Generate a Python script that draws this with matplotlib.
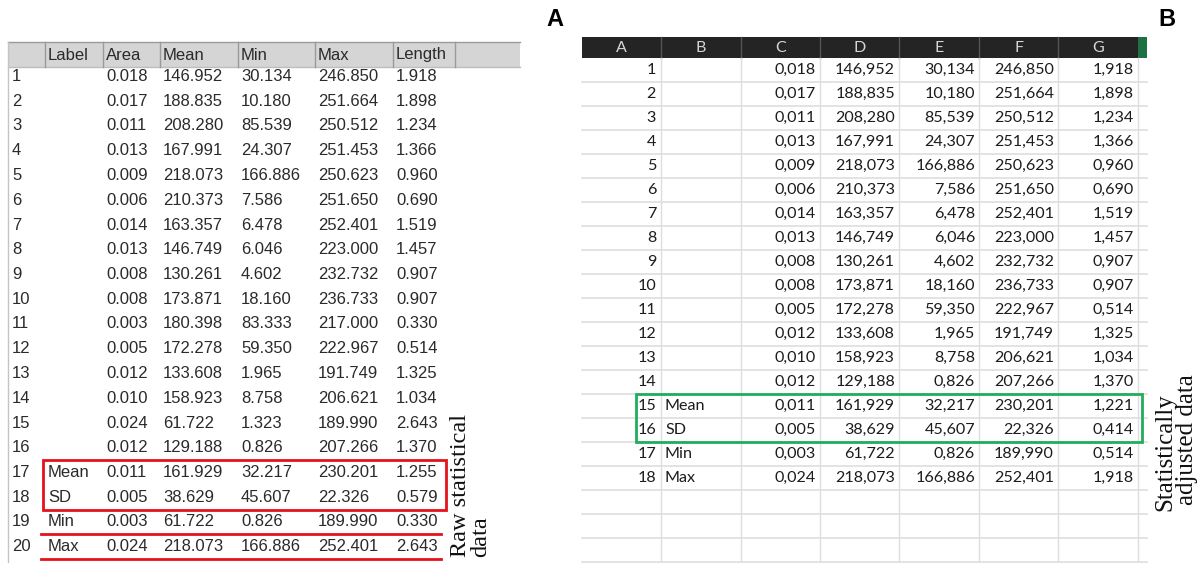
import matplotlib
matplotlib.use("Agg")
import matplotlib.pyplot as plt
from matplotlib.patches import Rectangle

# ---- panel A: raw ImageJ-style results table ----
raw_cols = ["Label", "Area", "Mean", "Min", "Max", "Length"]
raw_labels = [""] * 16 + ["Mean", "SD", "Min", "Max"]
raw_area = [0.018, 0.017, 0.011, 0.013, 0.009, 0.006, 0.014, 0.013, 0.008, 0.008,
            0.003, 0.005, 0.012, 0.010, 0.024, 0.012, 0.011, 0.005, 0.003, 0.024]
raw_mean = [146.952, 188.835, 208.280, 167.991, 218.073, 210.373, 163.357, 146.749,
            130.261, 173.871, 180.398, 172.278, 133.608, 158.923, 61.722, 129.188,
            161.929, 38.629, 61.722, 218.073]
raw_min = [30.134, 10.180, 85.539, 24.307, 166.886, 7.586, 6.478, 6.046, 4.602, 18.160,
           83.333, 59.350, 1.965, 8.758, 1.323, 0.826, 32.217, 45.607, 0.826, 166.886]
raw_max = [246.850, 251.664, 250.512, 251.453, 250.623, 251.650, 252.401, 223.000,
           232.732, 236.733, 217.000, 222.967, 191.749, 206.621, 189.990, 207.266,
           230.201, 22.326, 189.990, 252.401]
raw_length = [1.918, 1.898, 1.234, 1.366, 0.960, 0.690, 1.519, 1.457, 0.907, 0.907,
              0.330, 0.514, 1.325, 1.034, 2.643, 1.370, 1.255, 0.579, 0.330, 2.643]

# ---- panel B: spreadsheet after removing outliers ----
adj_cols = ["A", "B", "C", "D", "E", "F", "G"]
adj_labels = [""] * 14 + ["Mean", "SD", "Min", "Max"]
adj_area = [0.018, 0.017, 0.011, 0.013, 0.009, 0.006, 0.014, 0.013, 0.008, 0.008,
            0.005, 0.012, 0.010, 0.012, 0.011, 0.005, 0.003, 0.024]
adj_mean = [146.952, 188.835, 208.280, 167.991, 218.073, 210.373, 163.357, 146.749,
            130.261, 173.871, 172.278, 133.608, 158.923, 129.188,
            161.929, 38.629, 61.722, 218.073]
adj_min = [30.134, 10.180, 85.539, 24.307, 166.886, 7.586, 6.478, 6.046, 4.602, 18.160,
           59.350, 1.965, 8.758, 0.826, 32.217, 45.607, 0.826, 166.886]
adj_max = [246.850, 251.664, 250.512, 251.453, 250.623, 251.650, 252.401, 223.000,
           232.732, 236.733, 222.967, 191.749, 206.621, 207.266,
           230.201, 22.326, 189.990, 252.401]
adj_length = [1.918, 1.898, 1.234, 1.366, 0.960, 0.690, 1.519, 1.457, 0.907, 0.907,
              0.514, 1.325, 1.034, 1.370, 1.221, 0.414, 0.514, 1.918]

fig = plt.figure(figsize=(11.97, 5.63), dpi=100)
ax = fig.add_axes([0, 0, 1, 1])
ax.set_xlim(0, 1197)
ax.set_ylim(563, 0)
ax.axis("off")

# ---------------- panel A ----------------
sans = "Liberation Sans"
txt_a = "#2a2a2a"
seps_a = [45, 103, 160, 238, 315, 393, 455]
ax.add_patch(Rectangle((8, 42), 512, 25, facecolor="#d5d5d5", edgecolor="none"))
ax.plot([8, 520], [42, 42], color="#9a9a9a", lw=1)
ax.plot([8, 520], [67, 67], color="#bdbdbd", lw=1)
for x in seps_a:
    ax.plot([x, x], [42, 67], color="#9a9a9a", lw=1)
ax.plot([8, 8], [42, 563], color="#c4c4c4", lw=1)
for x, name in zip(seps_a[:-1], raw_cols):
    ax.text(x + 3, 55, name, fontsize=12, family=sans, color=txt_a, va="center")

def fmt_a(v):
    return f"{v:.3f}"

y0, dy = 76.5, 24.75
for i in range(len(raw_area)):
    y = y0 + i * dy
    ax.text(12, y, str(i + 1), fontsize=12, family=sans, color=txt_a, va="center")
    vals = [raw_labels[i], fmt_a(raw_area[i]), fmt_a(raw_mean[i]), fmt_a(raw_min[i]),
            fmt_a(raw_max[i]), fmt_a(raw_length[i])]
    for x, s in zip(seps_a[:-1], vals):
        ax.text(x + 3, y, s, fontsize=12, family=sans, color=txt_a, va="center")

red = "#e5121b"
ax.add_patch(Rectangle((43, y0 + 16 * dy - 12.5), 403, 2 * dy,
                       facecolor="none", edgecolor=red, lw=2, zorder=5))
for r in (18, 19):
    yl = y0 + r * dy + 12
    ax.plot([41, 441], [yl, yl], color=red, lw=2, zorder=5)

ax.text(460, 557, "Raw statistical", rotation=90, fontsize=17.5,
        family="Liberation Serif", color="#111111", ha="center", va="bottom")
ax.text(481, 557, "data", rotation=90, fontsize=17.5,
        family="Liberation Serif", color="#111111", ha="center", va="bottom")

# ---------------- panel B ----------------
calib = "Lato"
txt_b = "#1c1c1c"
seps_b = [582, 661, 741, 820, 899, 979, 1058, 1138]
ax.add_patch(Rectangle((582, 37), 556, 21, facecolor="#242424", edgecolor="none"))
ax.add_patch(Rectangle((1138, 37), 9, 21, facecolor="#1e7145", edgecolor="none"))
for x in seps_b[1:-1]:
    ax.plot([x, x], [37, 58], color="#555555", lw=1)
for j, name in enumerate(adj_cols):
    ax.text((seps_b[j] + seps_b[j + 1]) / 2, 48, name, fontsize=11.5, family=calib,
            color="#d6d6d6", ha="center", va="center")

grid = "#dedede"
yb0, dyb = 70, 24
for x in seps_b[1:]:
    ax.plot([x, x], [58, 563], color=grid, lw=1)
yl = 58 + dyb
while yl < 563:
    ax.plot([582, 1147], [yl, yl], color=grid, lw=1.2)
    yl += dyb

def fmt_b(v):
    return f"{v:.3f}".replace(".", ",")

for i in range(len(adj_area)):
    y = yb0 + i * dyb
    ax.text(656, y, str(i + 1), fontsize=11.6, family=calib, color=txt_b,
            ha="right", va="center")
    ax.text(665, y, adj_labels[i], fontsize=11.6, family=calib, color=txt_b,
            ha="left", va="center")
    vals = [adj_area[i], adj_mean[i], adj_min[i], adj_max[i], adj_length[i]]
    for x, v in zip(seps_b[3:], vals):
        ax.text(x - 4, y, fmt_b(v), fontsize=11.6, family=calib, color=txt_b,
                ha="right", va="center")

ax.add_patch(Rectangle((636, yb0 + 14 * dyb - 12), 506, 2 * dyb,
                       facecolor="none", edgecolor="#22ad5c", lw=2, zorder=5))

ax.text(1165, 452, "Statistically", rotation=90, fontsize=18,
        family="Liberation Serif", color="#111111", ha="center", va="center")
ax.text(1187, 440, "adjusted data", rotation=90, fontsize=18,
        family="Liberation Serif", color="#111111", ha="center", va="center")

# panel letters
ax.text(555, 20, "A", fontsize=17, family=sans, weight="bold", ha="center", va="center")
ax.text(1167, 20, "B", fontsize=17, family=sans, weight="bold", ha="center", va="center")

fig.savefig("out.png", dpi=100)
